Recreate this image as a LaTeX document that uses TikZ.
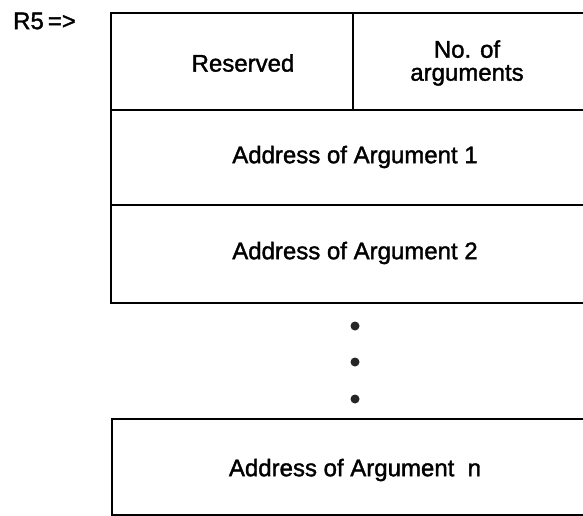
\documentclass[tikz,border=0pt]{standalone}
\usepackage{fontspec}
\setmainfont{Liberation Sans}
\newfontfamily\lblfont{Liberation Sans}[FakeBold=1.5]
\begin{document}
\begin{tikzpicture}[x=1pt,y=-1pt,
  cell/.style={draw=black,line width=2.8pt},
  lbl/.style={font=\lblfont\fontsize{24}{23}\selectfont,align=center,inner sep=0pt},
  dotmark/.style={circle,fill=black!85,inner sep=0pt,minimum size=9pt}]
\useasboundingbox (0,0) rectangle (583,516);
\clip (0,0) rectangle (583,516);
\fill[white] (0,0) rectangle (583,516);
\draw[cell] (111,13) rectangle (600,303);
\draw[cell] (111,110) -- (600,110);
\draw[cell] (111,205) -- (600,205);
\draw[cell] (353,13) -- (353,110);
\draw[cell] (112,419) rectangle (600,515);
\node[lbl,anchor=west] (r5) at (13,21) {R5\,=>};
\node[lbl] (res) at (243,63) {Reserved};
\node[lbl] (noa) at (467,63) {No. of\\arguments};
\node[lbl] (a1) at (355,157) {Address of Argument 1};
\node[lbl] (a2) at (355,253) {Address of Argument 2};
\node[dotmark] (d1) at (355,326) {};
\node[dotmark] (d2) at (355,362) {};
\node[dotmark] (d3) at (355,399) {};
\node[lbl] (an) at (355,470) {Address of Argument\ \ n};
\end{tikzpicture}
\end{document}
